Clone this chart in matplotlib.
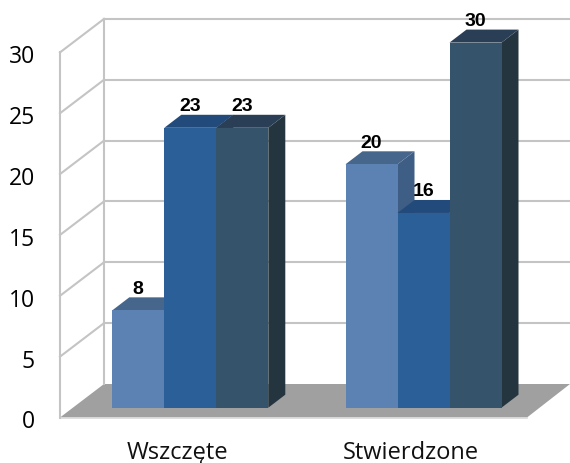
'''
3D-look grouped bar chart (Wszczete / Stwierdzone).
'''

import numpy as np
from matplotlib import pyplot as plt
from matplotlib.patches import Polygon


categories = ['Wszczęte', 'Stwierdzone']
series_a   = [8, 20]
series_b   = [23, 16]
series_c   = [23, 30]
yticks     = [0, 5, 10, 15, 20, 25, 30]


#(0) Scales: one full-figure axes, pixels only used to place the axes limits
W,H    = 570, 464
xunit  = 233.2   # px per category
yunit  = 12.17   # px per value
x0px   = 190.3   # px of first category
y0px   = 408.7   # px of value 0 on the bar fronts
width  = 52.0 / xunit
ddx    = 17.0 / xunit   # bar depth
ddy    = 13.0 / yunit

plt.rcParams['font.family'] = ['Open Sans', 'DejaVu Sans']
fig = plt.figure(figsize=(W/100, H/100), dpi=100)
ax  = fig.add_axes([0, 0, 1, 1])
ax.set_xlim(-x0px/xunit, (W-x0px)/xunit)
ax.set_ylim((y0px-H)/yunit, y0px/yunit)
ax.axis('off')

# wall planes, relative to the bar front plane
xfront = (60.0-x0px)/xunit
xback  = (104.0-x0px)/xunit
xfloor = (527.0-x0px)/xunit
xright = (570.0-x0px)/xunit
yfront = (y0px-418.5)/yunit
yback  = (y0px-385.0)/yunit
grid   = '#c4c4c4'


#(1) Floor and walls:
ax.add_patch(Polygon([(xfront,yfront), (xback,yback), (xright,yback), (xfloor,yfront)], fc='#a0a0a0', ec='none', zorder=1))
ax.plot([xfront,xfloor], [yfront,yfront], color='#d9d9d9', lw=1.2, zorder=1)
for t in yticks:
	if t>0:
		ax.plot([xback,xright], [yback+t,yback+t], color=grid, lw=1.5, zorder=1)
		ax.plot([xfront,xback], [yfront+t,yback+t], color=grid, lw=1.5, zorder=1)
	ax.text(xfront-25/xunit, yfront+t-0.08, str(t), size=16.5, color='k', ha='right', va='center_baseline', zorder=5)
ax.plot([xfront,xfront], [yfront,yfront+30], color=grid, lw=1.5, zorder=1)
ax.plot([xback,xback], [yback,yback+30], color=grid, lw=1.5, zorder=1)


#(2) Bars:
x      = np.arange(len(categories))
series = [series_a, series_b, series_c]
fronts = ['#5b82b2', '#2a5f98', '#35536b']
tops   = ['#46668c', '#224a7a', '#2a3f56']
sides  = ['#3f5e85', '#1f4674', '#24353f']
z      = 2
for i,(vals,cf,ct,cs) in enumerate(zip(series, fronts, tops, sides)):
	left = x - 1.5*width + i*width
	for xx,v in zip(left, vals):
		ax.add_patch(Polygon([(xx+width,0), (xx+width+ddx,ddy), (xx+width+ddx,v+ddy), (xx+width,v)], fc=cs, ec='none', zorder=z))
		ax.add_patch(Polygon([(xx,v), (xx+ddx,v+ddy), (xx+width+ddx,v+ddy), (xx+width,v)], fc=ct, ec='none', zorder=z))
		ax.bar(xx, v, width=width, align='edge', color=cf, zorder=z+0.5)
		ax.text(xx+width/2, v+24/yunit, str(v), size=14, weight='bold', family=['Liberation Sans', 'DejaVu Sans'], color='k', ha='center', va='center_baseline', zorder=6)
	z += 1


#(3) Category labels:
for xx,s in zip(x, categories):
	ax.text(xx-13/xunit, (y0px-450)/yunit, s, size=17, color='#111111', ha='center', va='center_baseline', zorder=5)

plt.savefig('out.png', dpi=100)
